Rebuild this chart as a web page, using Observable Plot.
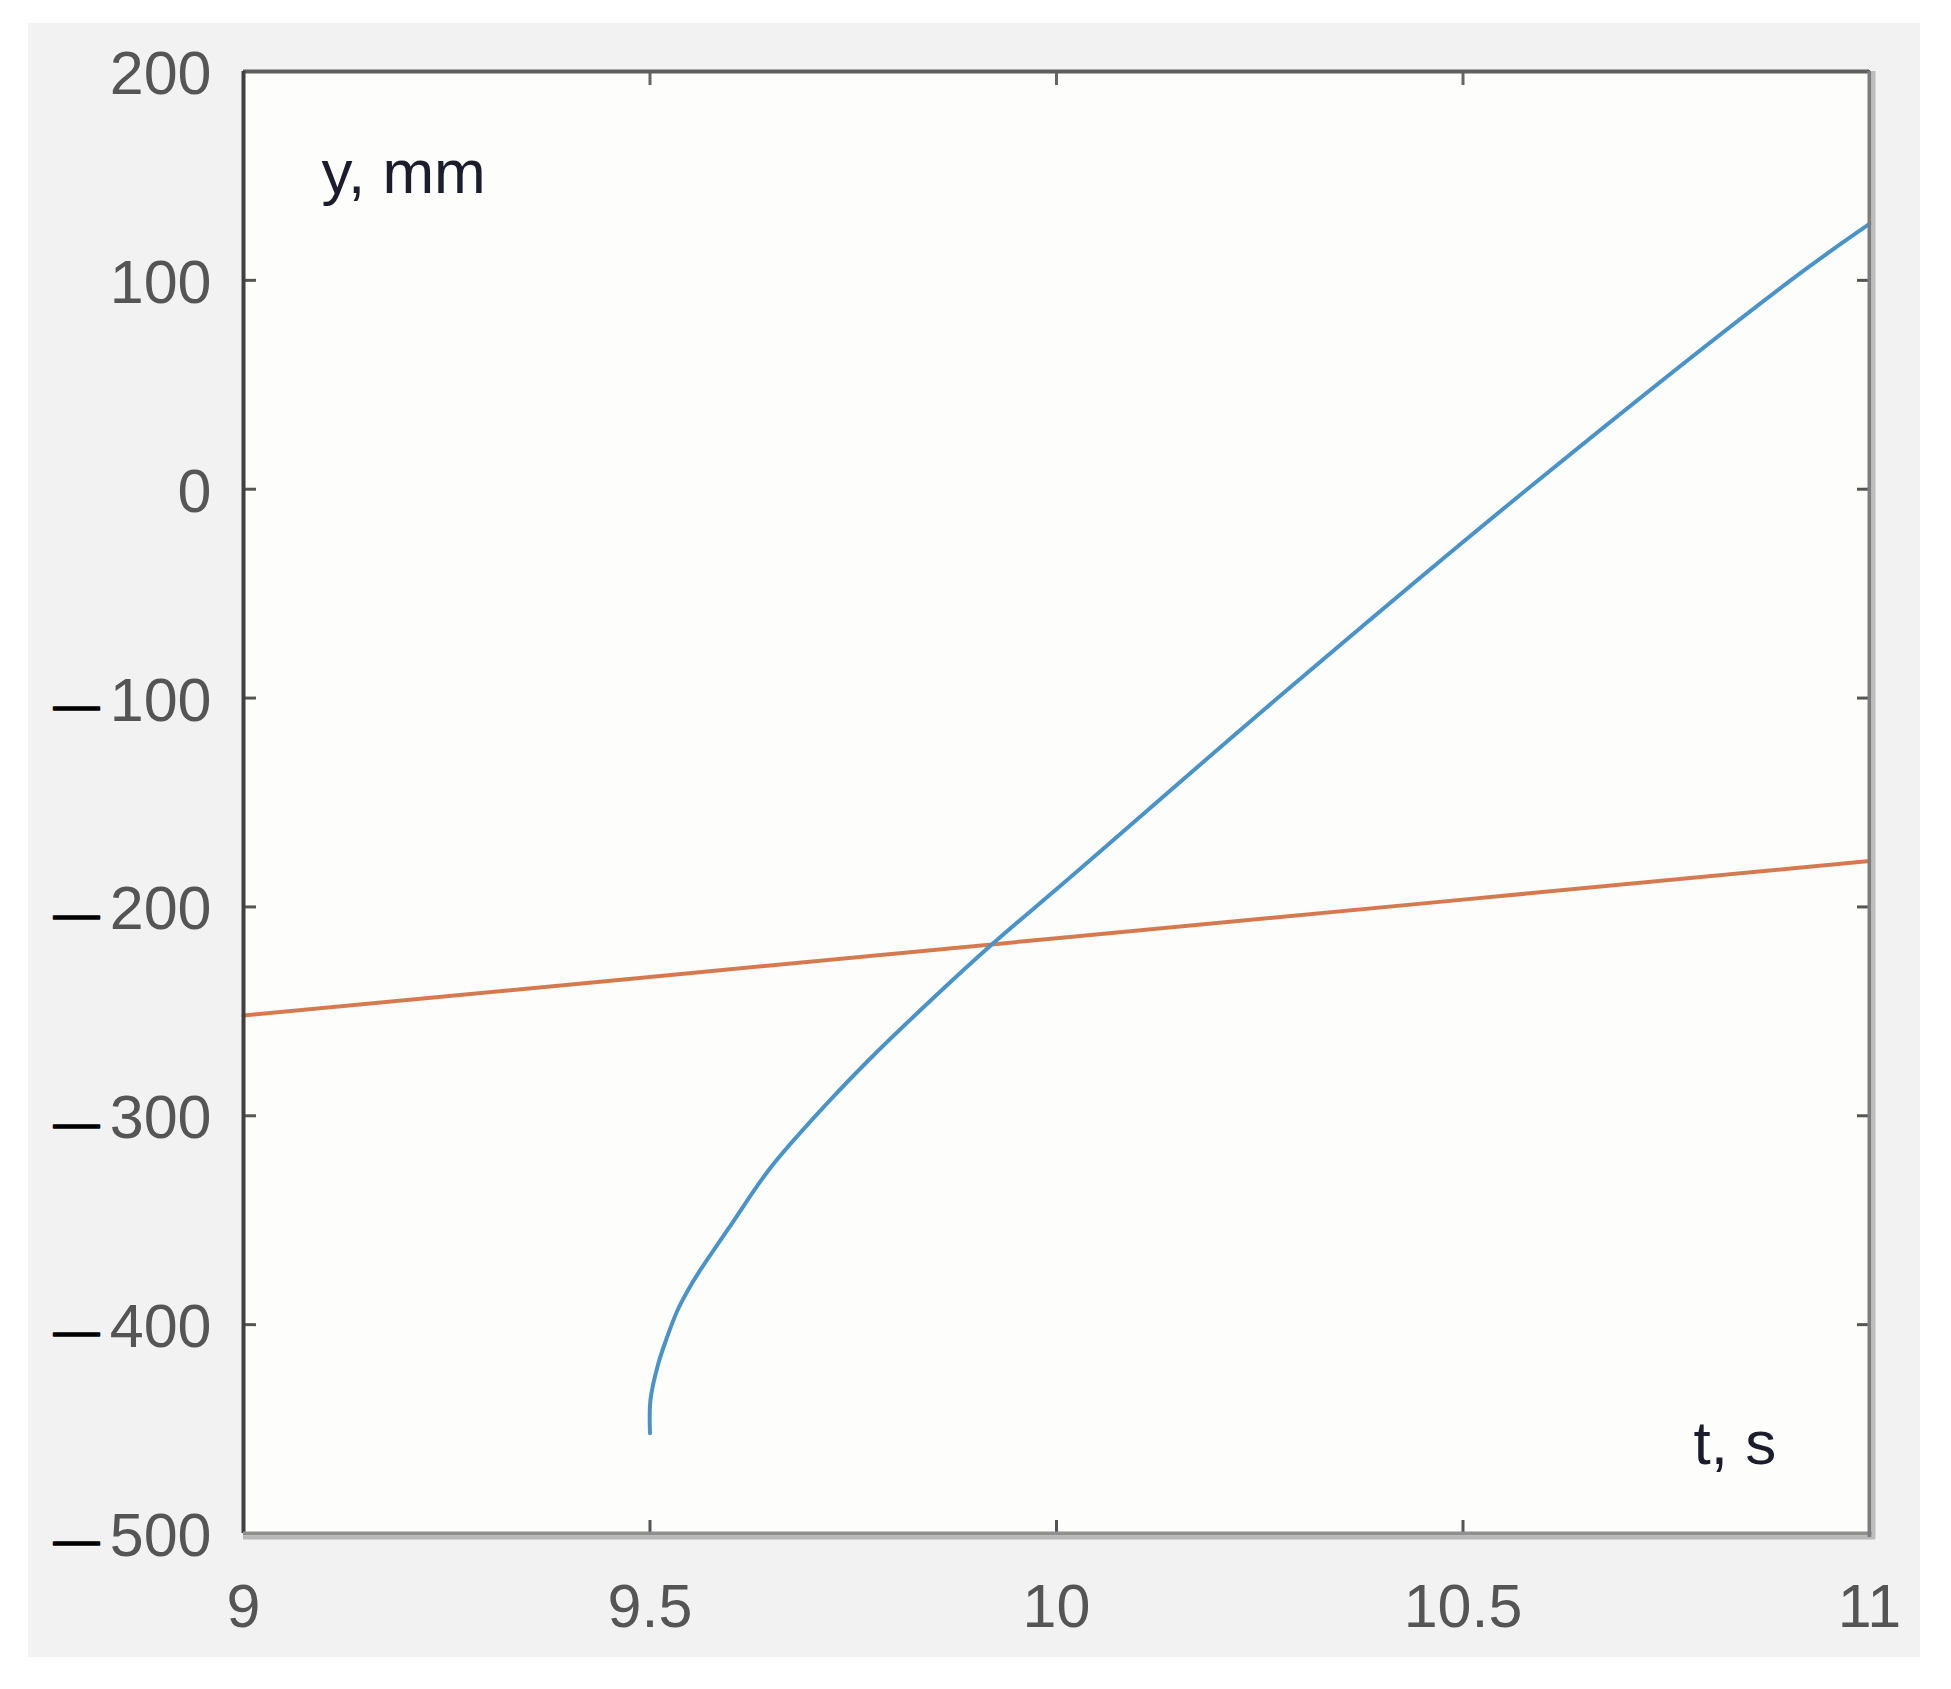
<!DOCTYPE html>
<html><head><meta charset="utf-8">
<script src="https://cdn.jsdelivr.net/npm/d3@7"></script>
<script src="https://cdn.jsdelivr.net/npm/@observablehq/plot@0.6"></script>
<style>
html,body{margin:0;padding:0;background:#ffffff;}
#chart{position:absolute;left:28px;top:23px;}
</style></head><body><div id="chart"></div>
<script>
// axis ticks
const xTicks = [9, 9.5, 10, 10.5, 11];
const yTicks = [-500, -400, -300, -200, -100, 0, 100, 200];

// blue series (t, y mm)
const tBlue = [9.5, 9.5006, 9.51, 9.521, 9.534, 9.546, 9.56, 9.60, 9.648, 9.718, 9.775, 9.8475, 9.919, 10.0135, 10.272, 10.579, 10.903, 11.0];
const yBlue = [-452, -436, -419, -406, -393, -384, -375, -352, -325, -294, -271, -244, -218.5, -187, -100, 0, 100, 127];

// orange series (t, y mm)
const tOrange = [9, 9.5, 10, 10.5, 11];
const yOrange = [-252, -233.5, -215, -196.5, -178];

// in-plot annotations
const noteText = ["y, mm", "t, s"];
const noteT = [9.096, 10.7835];
const noteY = [141.6, -466.5];

const blue = tBlue.map((t, i) => ({t, y: yBlue[i]}));
const orange = tOrange.map((t, i) => ({t, y: yOrange[i]}));
const notes = noteText.map((text, i) => ({text, t: noteT[i], y: noteY[i]}));
const negTicks = yTicks.filter(d => d < 0);

const chart = Plot.plot({
  width: 1892,
  height: 1634,
  marginLeft: 215,
  marginRight: 51,
  marginTop: 48,
  marginBottom: 124,
  style: {background: "#f2f2f2", fontFamily: "Liberation Sans, Arial, sans-serif", fontSize: "61px"},
  x: {domain: [9, 11]},
  y: {domain: [-500, 200]},
  marks: [
    Plot.frame({fill: "#fdfdfb", stroke: null}),
    Plot.line(orange, {x: "t", y: "y", stroke: "#d57a50", strokeWidth: 4}),
    Plot.line(blue, {x: "t", y: "y", stroke: "#4a93c9", strokeWidth: 4, curve: "catmull-rom"}),
    // inward ticks on all four sides
    Plot.axisX({anchor: "bottom", ticks: xTicks, tickSize: -13, tickFormat: () => "", label: null, stroke: "#555", strokeWidth: 3}),
    Plot.axisX({anchor: "top", ticks: xTicks, tickSize: -13, tickFormat: () => "", label: null, stroke: "#666", strokeWidth: 3}),
    Plot.axisY({anchor: "left", ticks: yTicks, tickSize: -13, tickFormat: () => "", label: null, stroke: "#555", strokeWidth: 3}),
    Plot.axisY({anchor: "right", ticks: yTicks, tickSize: -13, tickFormat: () => "", label: null, stroke: "#555", strokeWidth: 3}),
    // box
    Plot.ruleY([200], {stroke: "#5f5f5f", strokeWidth: 4}),
    Plot.ruleX([9], {stroke: "#404040", strokeWidth: 4}),
    Plot.ruleY([-500], {stroke: "#8f8f8f", strokeWidth: 4, insetRight: -4}),
    Plot.ruleY([-500], {stroke: "#b8b8b8", strokeWidth: 4, dy: 4, insetRight: -6}),
    Plot.ruleX([11], {stroke: "#7d7d7d", strokeWidth: 4, insetBottom: -4}),
    Plot.ruleX([11], {stroke: "#bdbdbd", strokeWidth: 4, dx: 4, insetBottom: -6}),
    // y tick labels
    Plot.text(yTicks, {y: d => d, text: d => String(Math.abs(d)), frameAnchor: "left", textAnchor: "end", dx: -32, dy: 3, fill: "#555", fontSize: 61}),
    Plot.text(negTicks, {y: d => d, text: () => "\u2014", frameAnchor: "left", textAnchor: "end", dx: -144, dy: 7, fill: "#000", stroke: "#000", strokeWidth: 1.4, fontSize: 46}),
    // x tick labels
    Plot.text(xTicks, {x: d => d, text: d => String(d), frameAnchor: "bottom", lineAnchor: "top", dy: 50, fill: "#555", fontSize: 61}),
    // annotations
    Plot.text(notes, {x: "t", y: "y", text: "text", textAnchor: "start", lineAnchor: "bottom", fill: "#1c1c2c", fontSize: 62})
  ]
});
document.getElementById("chart").appendChild(chart);
</script></body></html>
